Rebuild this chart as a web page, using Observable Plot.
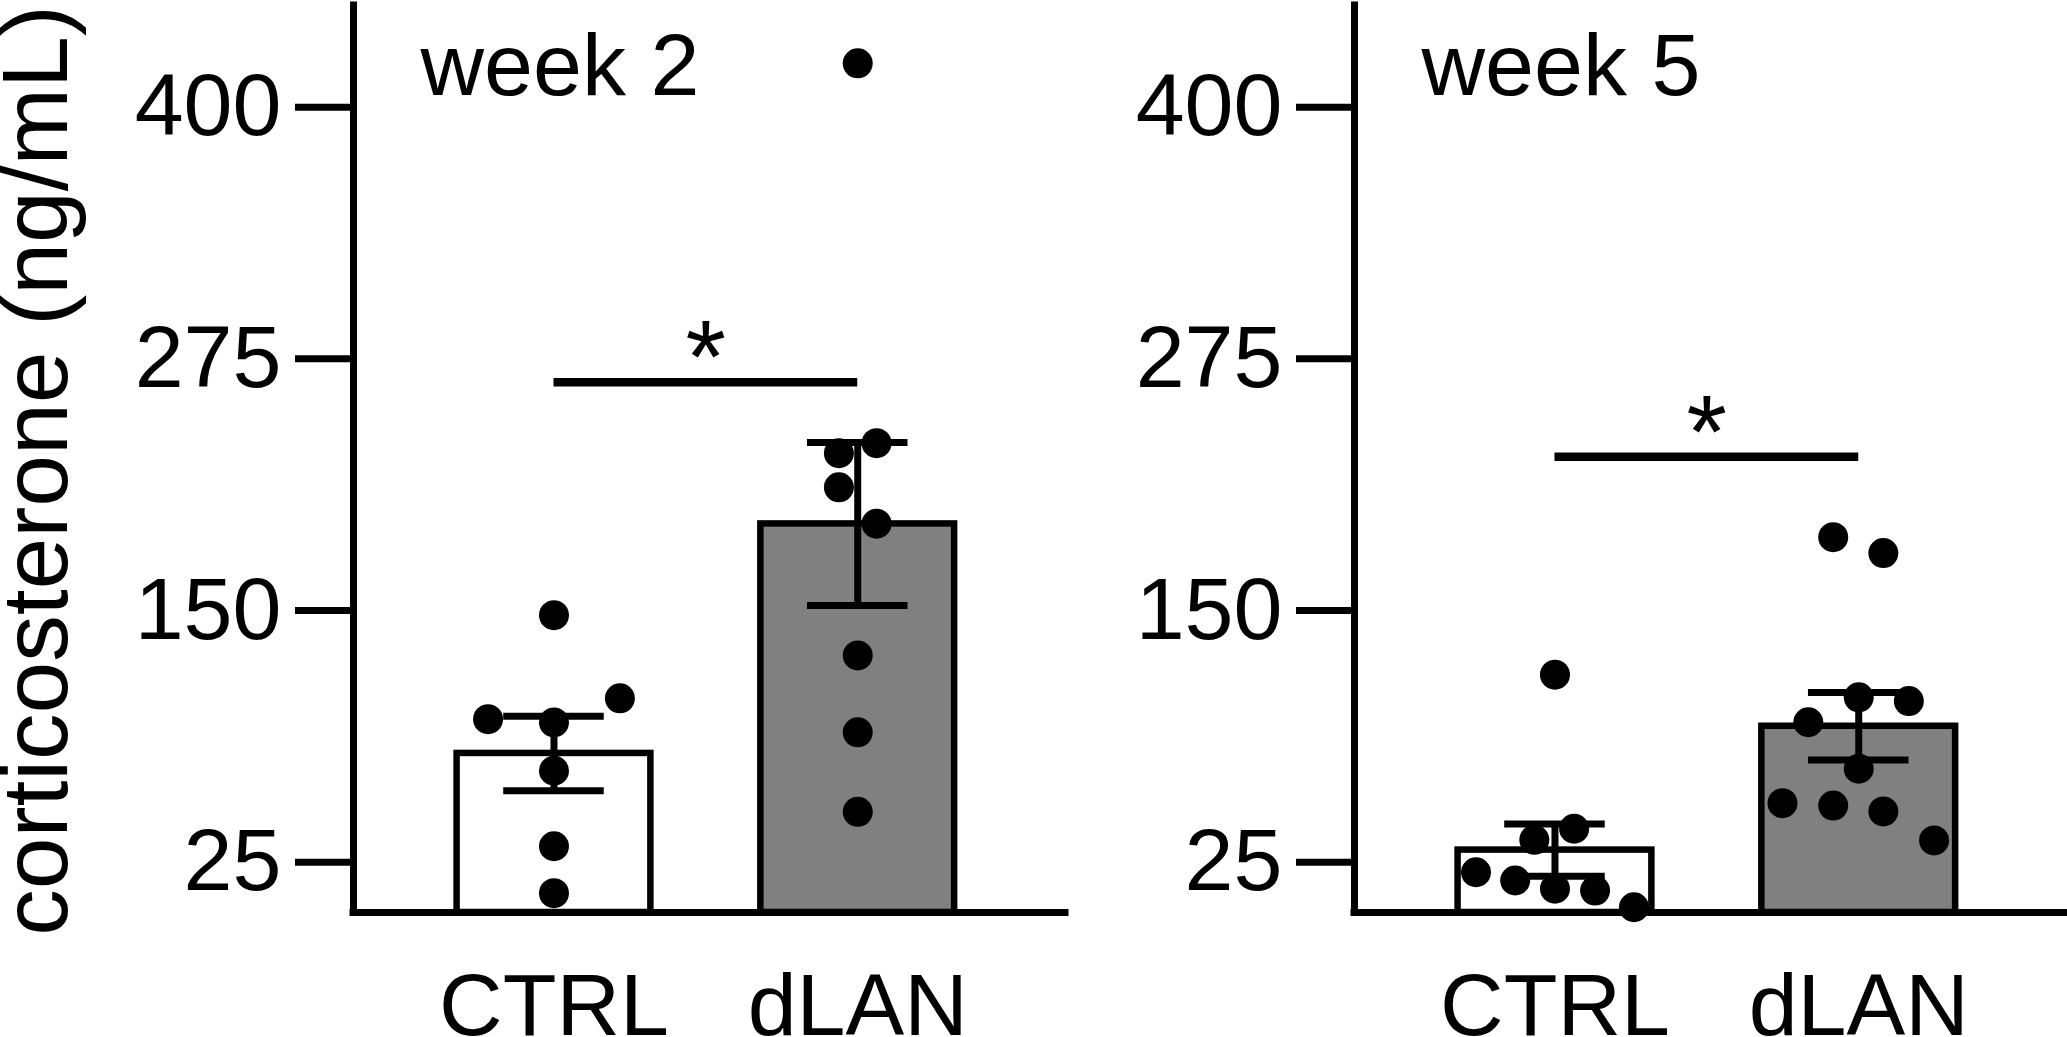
<!DOCTYPE html>
<html>
<head>
<meta charset="utf-8">
<script src="https://cdn.jsdelivr.net/npm/d3@7"></script>
<script src="https://cdn.jsdelivr.net/npm/@observablehq/plot@0.6"></script>
<style>
  html, body { margin: 0; padding: 0; background: white; overflow: hidden; }
  #chart { width: 2067px; height: 1037px; }
</style>
</head>
<body>
<div id="chart"></div>
<script>
// ---- data ----
const weeks = ["week 2", "week 5"];
const groups = ["CTRL", "dLAN"];
const yTicks = [25, 150, 275, 400];
const yLabel = "corticosterone (ng/mL)";

// individual animals (ng/mL) and their horizontal scatter (in category steps)
const w2Ctrl = [147.7, 96.0, 94.4, 106.4, 70.4, 32.9, 9.6];
const w2CtrlJitter = [0, -0.217, 0, 0.217, 0, 0, 0];
const w2Dlan = [421.8, 233.1, 228.1, 211.2, 193.1, 127.7, 89.5, 50.0];
const w2DlanJitter = [0, 0.062, -0.062, -0.062, 0.062, 0, 0, 0];
const w5Ctrl = [118.1, 36.1, 41.6, 20.0, 15.9, 11.8, 10.9, 2.6];
const w5CtrlJitter = [0, -0.068, 0.063, -0.26, -0.131, 0, 0.132, 0.26];
const w5Dlan = [186.4, 178.5, 106.9, 105.0, 94.5, 71.4, 54.3, 53.1, 50.2, 35.8];
const w5DlanJitter = [-0.084, 0.081, 0, 0.165, -0.166, 0, -0.251, -0.084, 0.081, 0.248];

// bar means and SEM, per week: [CTRL, dLAN]
const meanW2 = [79, 193];
const semW2 = [18.5, 40.5];
const meanW5 = [31, 92.5];
const semW5 = [13, 16.8];
const barFills = ["white", "#808080"];

// significance brackets per week
const sigLevel = [263.4, 226.4];
const sigText = ["*", "*"];

// ---- tables built from the arrays ----
const points = [];
function addPoints(week, gi, vals, jit) {
  vals.forEach((v, i) => points.push({week, gi, value: v, jitter: jit[i]}));
}
addPoints(weeks[0], 0, w2Ctrl, w2CtrlJitter);
addPoints(weeks[0], 1, w2Dlan, w2DlanJitter);
addPoints(weeks[1], 0, w5Ctrl, w5CtrlJitter);
addPoints(weeks[1], 1, w5Dlan, w5DlanJitter);

const bars = [];
[[meanW2, semW2], [meanW5, semW5]].forEach(([m, s], wi) => {
  groups.forEach((g, gi) => bars.push({week: weeks[wi], gi, mean: m[gi], sem: s[gi], fill: barFills[gi]}));
});

const sig = weeks.map((w, i) => ({week: w, value: sigLevel[i], label: sigText[i]}));

// ---- layout constants ----
const barHalf = 0.319;
const capHalf = 0.1655;
const font = "'Liberation Sans', Arial, Helvetica, sans-serif";

const chart = Plot.plot({
  width: 2067,
  height: 1037,
  marginLeft: 353,
  marginRight: 0,
  marginTop: 5,
  marginBottom: 125,
  style: {background: "white", color: "black", fontFamily: font},
  fx: {domain: weeks, paddingInner: 0.2886, paddingOuter: 0, axis: null, label: null},
  x: {type: "linear", domain: [-0.66, 1.684]},
  y: {domain: [0, 450.5]},
  color: {type: "identity"},
  marks: [
    Plot.rectY(bars, {
      fx: "week", x1: d => d.gi - barHalf, x2: d => d.gi + barHalf,
      y1: 0, y2: "mean", fill: "fill", stroke: "black", strokeWidth: 6.5
    }),
    Plot.ruleX(bars, {fx: "week", x: "gi", y1: d => d.mean - d.sem, y2: d => d.mean + d.sem, stroke: "black", strokeWidth: 7}),
    Plot.ruleY(bars, {fx: "week", y: d => d.mean + d.sem, x1: d => d.gi - capHalf, x2: d => d.gi + capHalf, stroke: "black", strokeWidth: 7}),
    Plot.ruleY(bars, {fx: "week", y: d => d.mean - d.sem, x1: d => d.gi - capHalf, x2: d => d.gi + capHalf, stroke: "black", strokeWidth: 7}),
    Plot.dot(points, {fx: "week", x: d => d.gi + d.jitter, y: "value", r: 15, fill: "black"}),
    Plot.ruleY(sig, {fx: "week", y: "value", x1: 0, x2: 1, stroke: "black", strokeWidth: 8.5}),
    Plot.text(sig, {fx: "week", x: 0.5, y: "value", text: "label", fontSize: 104, dy: -22, lineAnchor: "middle", fill: "black"}),
    Plot.text(weeks, {fx: d => d, text: d => d, frameAnchor: "top-left", textAnchor: "start", lineAnchor: "bottom", dx: 67, dy: 89, fontSize: 88, fill: "black"}),
    Plot.text([yLabel], {fx: () => weeks[0], text: d => d, frameAnchor: "left", rotate: -90, textAnchor: "middle", lineAnchor: "middle", dx: -316, dy: 11.5, fontSize: 93, fill: "black"}),
    Plot.ruleY([0], {stroke: "black", strokeWidth: 7, strokeLinecap: "square"}),
    Plot.ruleX([-0.66], {stroke: "black", strokeWidth: 7, strokeLinecap: "square"}),
    Plot.axisY({ticks: yTicks, tickSize: 58, tickPadding: 14, fontSize: 88, strokeWidth: 7, facetAnchor: null, label: null, stroke: "black", fill: "black"}),
    Plot.axisX({ticks: [0, 1], tickFormat: i => groups[i], tickSize: 0, tickPadding: 60.5, fontSize: 88, label: null, fill: "black"})
  ]
});
document.getElementById("chart").appendChild(chart);
</script>
</body>
</html>
